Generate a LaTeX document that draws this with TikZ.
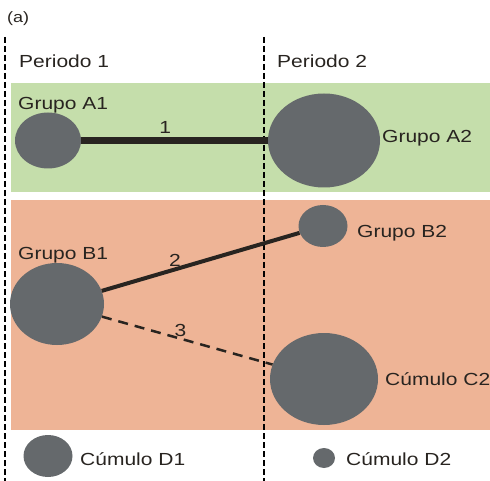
\documentclass[tikz,border=0pt]{standalone}
\usepackage{fontspec}
\setmainfont[FakeStretch=1.2]{Liberation Sans}
\usetikzlibrary{shapes.geometric}
\definecolor{bandgreen}{RGB}{197,222,171}
\definecolor{bandorange}{RGB}{238,180,150}
\definecolor{blobgray}{RGB}{101,105,108}
\definecolor{inkdark}{RGB}{40,36,32}
\tikzset{
  blob/.style={ellipse, fill=blobgray, inner sep=0pt},
  lbl/.style={anchor=base west, text=inkdark, inner sep=0pt, font=\fontsize{17.5}{20}\selectfont},
  numlbl/.style={text=inkdark, inner sep=1pt, font=\fontsize{17.5}{20}\selectfont},
  perline/.style={black, line width=2.2pt, dash pattern=on 6pt off 3pt},
}

\begin{document}
\begin{tikzpicture}[x=1pt,y=-1pt]
    \useasboundingbox (0,0) rectangle (490,481);
    % bands
    \fill[bandgreen] (11,83) rectangle (490,192);
    \fill[bandorange] (11,200) rectangle (490,430);
    % periods
    \draw[perline] (5,37) -- (5,481);
    \draw[perline] (264,37) -- (264,481);
    \node[lbl, font=\fontsize{15}{18}\selectfont] (tag) at (7,23) {(a)};
    \node[lbl] (per1) at (19,68) {Periodo 1};
    \node[lbl] (per2) at (277,68) {Periodo 2};
    % groups
    \node[blob, minimum width=66pt, minimum height=56pt] (a1) at (48,140.5) {};
    \node[blob, minimum width=112pt, minimum height=94pt] (a2) at (324,140.5) {};
    \node[blob, minimum width=94pt, minimum height=82pt] (b1) at (57,304) {};
    \node[blob, minimum width=49pt, minimum height=42pt] (b2) at (323,226) {};
    \node[blob, minimum width=108pt, minimum height=92pt] (c2) at (324,379) {};
    \node[blob, minimum width=49pt, minimum height=42pt] (d1) at (48,456) {};
    \node[blob, minimum width=22pt, minimum height=20pt] (d2) at (324,458) {};
    \node[lbl] (a1txt) at (18,110) {Grupo A1};
    \node[lbl] (a2txt) at (382,143) {Grupo A2};
    \node[lbl] (b1txt) at (18,259) {Grupo B1};
    \node[lbl] (b2txt) at (357,237) {Grupo B2};
    \node[lbl] (c2txt) at (385,385) {Cúmulo C2};
    \node[lbl] (d1txt) at (80,465) {Cúmulo D1};
    \node[lbl] (d2txt) at (346,465) {Cúmulo D2};
    % links
    \draw[line width=7pt, inkdark] (a1) -- node[numlbl, above=2pt, pos=0.45] {1} (a2);
    \draw[line width=4pt, inkdark] (b1) -- node[numlbl, above=0pt, pos=0.37] {2} (b2);
    \draw[line width=2.5pt, inkdark, dash pattern=on 10pt off 7pt] (b1) -- node[numlbl, above=0pt, pos=0.46] {3} (c2);
\end{tikzpicture}
\end{document}
